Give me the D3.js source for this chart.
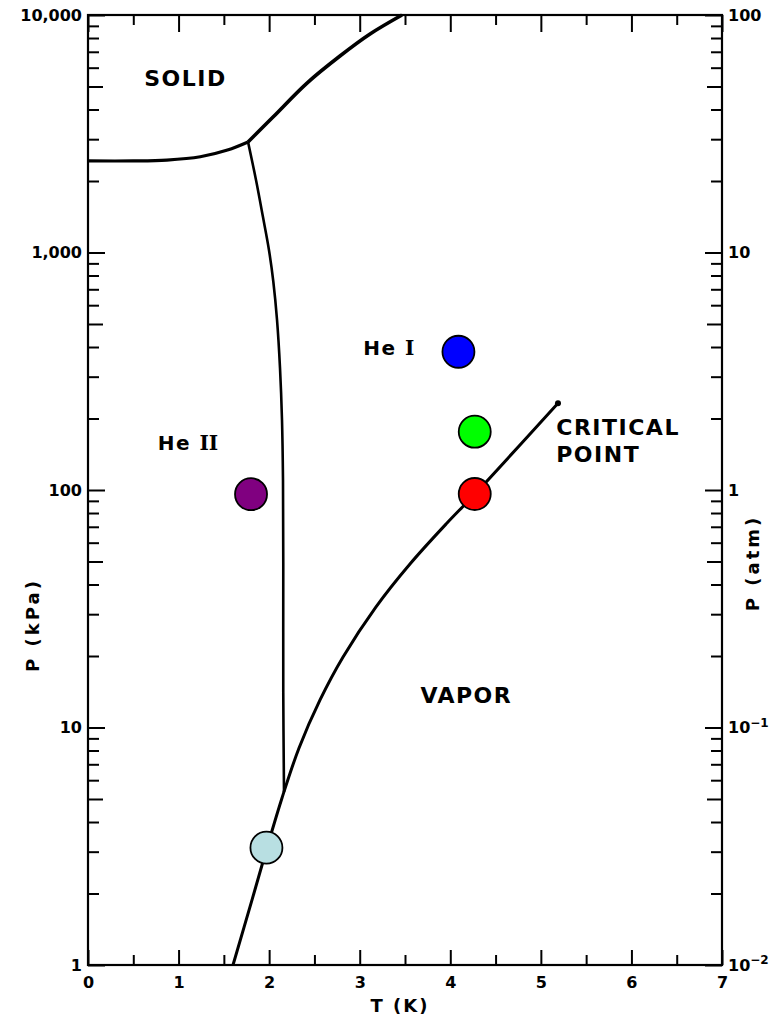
<!DOCTYPE html>
<html>
<head>
<meta charset="utf-8">
<script src="https://cdn.jsdelivr.net/npm/d3@7"></script>
<style>
body { margin: 0; background: #fff; }
svg text { font-family: "DejaVu Sans", sans-serif; font-weight: bold; fill: #000; }
</style>
</head>
<body>
<svg id="chart" width="769" height="1023"></svg>
<script>
// helium phase diagram, T in K, P in kPa
var meltLowT = [0, 0.5, 0.87, 1.24, 1.54, 1.767];
var meltLowP = [2430, 2430, 2450, 2530, 2700, 2920];
var meltHighT = [1.767, 2.043, 2.418, 2.782, 3.114, 3.467];
var meltHighP = [2920, 3720, 5170, 6720, 8320, 10000];
var lambdaT = [1.767, 1.855, 1.932, 1.998, 2.046, 2.087, 2.120, 2.142, 2.153, 2.156, 2.156, 2.164];
var lambdaP = [2920, 2020, 1410, 1025, 755, 520, 326, 197, 110, 49.3, 14.0, 5.35];
var vaporT = [1.601, 1.811, 1.976, 2.142, 2.330, 2.562, 2.816, 3.180, 3.555, 3.964, 4.262, 5.189];
var vaporP = [1, 1.88, 3.11, 5.05, 8.20, 13.06, 19.8, 32.2, 48.8, 72.6, 95.3, 232];
var critT = 5.189, critP = 232;

// coloured markers
var pointT = [4.09, 4.27, 4.27, 1.80, 1.97];
var pointP = [382, 176, 96.2, 96, 3.12];
var pointColor = ["#0000ff", "#00ff00", "#ff0000", "#800080", "#b8dfe2"];

// ticks
var tMajor = [0, 1, 2, 3, 4, 5, 6, 7];
var tMinor = [0.5, 1.5, 2.5, 3.5, 4.5, 5.5, 6.5];
var kpaDecades = [1, 10, 100, 1000, 10000];
var atmDecades = [0.01, 0.1, 1, 10, 100];
var mantissas = [2, 3, 4, 5, 6, 7, 8, 9];

var margin = {top: 15, left: 88};
var w = 634, h = 950;

var svg = d3.select("#chart");
var g = svg.append("g").attr("transform", "translate(" + margin.left + "," + margin.top + ")");

var x = d3.scaleLinear().domain([0, 7]).range([0, w]);
var y = d3.scaleLog().domain([1, 10000]).range([h, 0]);
var yAtm = d3.scaleLog().domain([0.01, 100]).range([h, 0]);

function logTicks(decades) {
    var out = decades.slice();
    decades.slice(0, -1).forEach(function(d) {
        mantissas.forEach(function(m) { out.push(d * m); });
    });
    return out;
}

function mantissa(d) {
    return Math.round(d / Math.pow(10, Math.floor(Math.log10(d) + 1e-9)));
}

function styleAxis(sel) {
    sel.select(".domain").remove();
    sel.attr("font-family", null).attr("font-size", 16);
    sel.selectAll(".tick line").attr("stroke", "#000").attr("stroke-width", 2);
}

// bottom axis
var gx = g.append("g").attr("transform", "translate(0," + h + ")")
    .call(d3.axisBottom(x).tickValues(tMajor.concat(tMinor)).tickSizeInner(-15).tickSizeOuter(0).tickPadding(12)
        .tickFormat(function(d) { return tMajor.indexOf(d) >= 0 ? d : ""; }));
styleAxis(gx);
gx.selectAll(".tick line").attr("y2", function(d) { return tMajor.indexOf(d) >= 0 ? -15 : -10; });

// top axis
var gt = g.append("g")
    .call(d3.axisTop(x).tickValues(tMajor.concat(tMinor)).tickSizeInner(-16).tickSizeOuter(0).tickFormat(""));
styleAxis(gt);
gt.selectAll(".tick line").attr("y2", function(d) { return tMajor.indexOf(d) >= 0 ? 17 : 10; });

// left axis (kPa)
var gy = g.append("g")
    .call(d3.axisLeft(y).tickValues(logTicks(kpaDecades)).tickSizeInner(-15).tickSizeOuter(0).tickPadding(6)
        .tickFormat(function(d) { return kpaDecades.indexOf(d) >= 0 ? d3.format(",")(d) : ""; }));
styleAxis(gy);
gy.selectAll(".tick line").attr("x2", function(d) {
    if (kpaDecades.indexOf(d) >= 0) return 17;
    return mantissa(d) === 5 ? 15 : 11;
});

// right axis (atm)
var gr = g.append("g").attr("transform", "translate(" + w + ",0)")
    .call(d3.axisRight(yAtm).tickValues(logTicks(atmDecades)).tickSizeInner(-15).tickSizeOuter(0).tickPadding(6)
        .tickFormat(function(d) { return atmDecades.indexOf(d) >= 0 && d >= 1 ? d3.format("d")(d) : ""; }));
styleAxis(gr);
gr.selectAll(".tick line").attr("x2", function(d) {
    if (atmDecades.indexOf(d) >= 0) return -17;
    return mantissa(d) === 5 ? -15 : -11;
});
gr.selectAll(".tick text").each(function(d) {
    if (atmDecades.indexOf(d) >= 0 && d < 1) {
        var t = d3.select(this).text("10");
        t.append("tspan").attr("dy", "-0.55em").attr("font-size", 12)
            .text("\u2212" + Math.round(-Math.log10(d)));
    }
});

// frame
g.append("rect").attr("width", w).attr("height", h)
    .attr("fill", "none").attr("stroke", "#000").attr("stroke-width", 2.2);

// phase lines
function curve(T, P) {
    return d3.line().x(function(d) { return x(d[0]); }).y(function(d) { return y(d[1]); })
        .curve(d3.curveCatmullRom.alpha(0.5))(d3.zip(T, P));
}
g.append("path").attr("d", curve(meltLowT, meltLowP))
    .attr("fill", "none").attr("stroke", "#000").attr("stroke-width", 3.2);
g.append("path").attr("d", curve(meltHighT, meltHighP))
    .attr("fill", "none").attr("stroke", "#000").attr("stroke-width", 3.6);
g.append("path").attr("d", curve(lambdaT, lambdaP))
    .attr("fill", "none").attr("stroke", "#000").attr("stroke-width", 2.6);
g.append("path").attr("d", curve(vaporT, vaporP))
    .attr("fill", "none").attr("stroke", "#000").attr("stroke-width", 3);
g.append("circle").attr("cx", x(critT)).attr("cy", y(critP)).attr("r", 3).attr("fill", "#000");

// markers
g.selectAll(".pt").data(d3.range(pointT.length)).enter().append("circle")
    .attr("class", "pt")
    .attr("cx", function(i) { return x(pointT[i]); })
    .attr("cy", function(i) { return y(pointP[i]); })
    .attr("r", 16)
    .attr("fill", function(i) { return pointColor[i]; })
    .attr("stroke", "#000").attr("stroke-width", 1.8);

// region labels
function label(T, P, txt, size) {
    return g.append("text").attr("x", x(T)).attr("y", y(P))
        .attr("font-size", size).attr("letter-spacing", 1.5).text(txt);
}
label(0.62, 5000, "SOLID", 22);
label(5.17, 170, "CRITICAL", 22);
label(5.17, 131, "POINT", 22);
label(3.67, 12.7, "VAPOR", 22);

var he1 = label(3.04, 370, "He ", 20);
he1.append("tspan").attr("font-family", "DejaVu Serif").text("I");
var he2 = label(0.77, 147, "He ", 20);
he2.append("tspan").attr("font-family", "DejaVu Serif").attr("letter-spacing", 0).text("II");

// axis titles
svg.append("text").attr("x", 400).attr("y", 1012).attr("text-anchor", "middle")
    .attr("font-size", 18).attr("letter-spacing", 2).text("T (K)");
svg.append("text").attr("transform", "translate(39,625) rotate(-90)").attr("text-anchor", "middle")
    .attr("font-size", 18).attr("letter-spacing", 3).text("P (kPa)");
svg.append("text").attr("transform", "translate(759,563) rotate(-90)").attr("text-anchor", "middle")
    .attr("font-size", 18).attr("letter-spacing", 3).text("P (atm)");
</script>
</body>
</html>
